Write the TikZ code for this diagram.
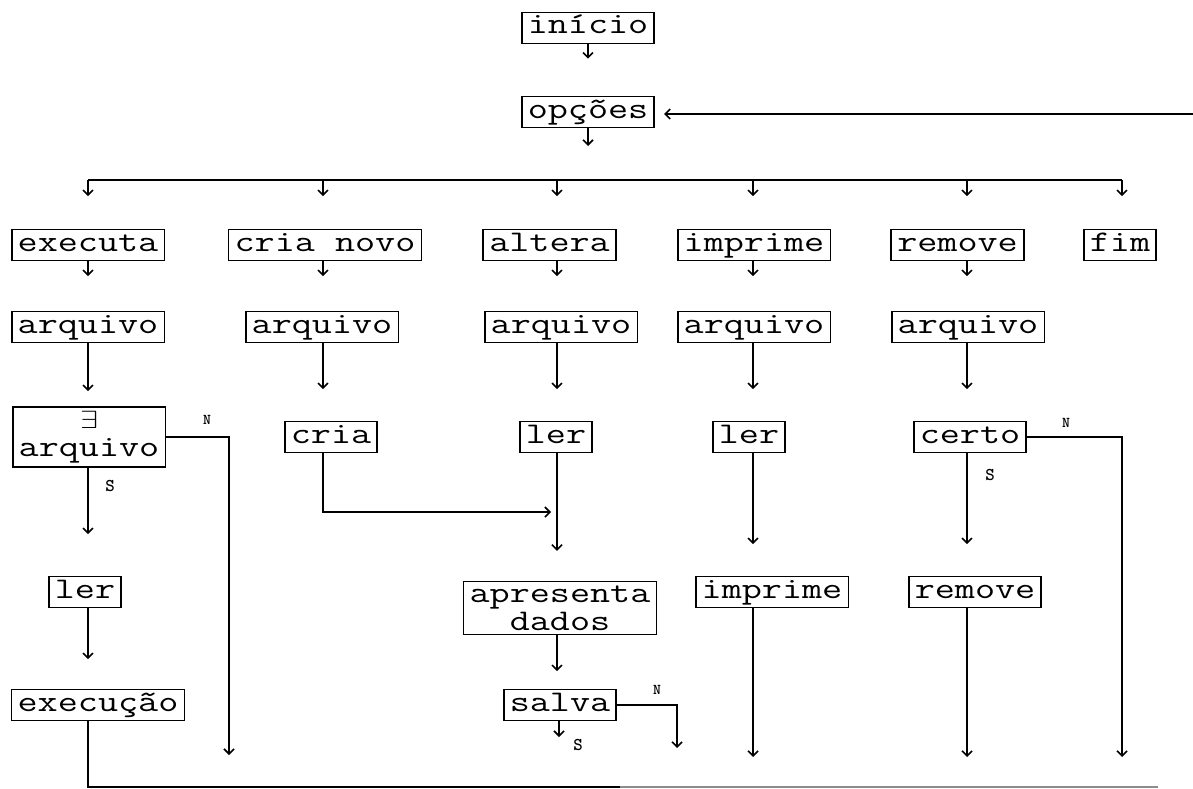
\documentclass[tikz,border=0pt]{standalone}
\usepackage{fontspec}
\usepackage{graphicx}
\usetikzlibrary{arrows.meta,calc}
\newcommand{\tx}[1]{\scalebox{1.3}[1]{#1}}
\tikzset{
  lw/.style={line width=1.6pt},
  box/.style={draw, line width=1.6pt, font=\fontsize{30}{28}\selectfont\ttfamily,
    inner xsep=6pt, inner ysep=2.5pt, text height=19pt, text depth=7pt},
  mbox/.style={draw, line width=1.6pt, font=\fontsize{30}{28}\selectfont\ttfamily,
    inner xsep=6pt, inner ysep=4pt, align=center},
  arr/.style={lw, -{Straight Barb[length=5pt,width=10pt]}},
  lab/.style={font=\fontsize{18}{18}\selectfont\ttfamily\bfseries, inner sep=0pt},
  nlab/.style={font=\fontsize{15}{15}\selectfont\ttfamily\bfseries, inner sep=0pt}
}
\begin{document}
\begin{tikzpicture}[x=1pt,y=-1pt]
\useasboundingbox (0,0) rectangle (1193,789);
% column x positions
\coordinate (c1) at (88,0);
\coordinate (c2) at (323,0);
\coordinate (c3) at (557,0);
\coordinate (c4) at (753,0);
\coordinate (c5) at (967,0);
\coordinate (c6) at (1122,0);
\coordinate (bus) at (0,180);
% top
\node[box] (inicio) at (588,28) {\tx{início}};
\node[box] (opcoes) at (588,112) {\tx{opções}};
% row 1
\node[box] (executa) at (88,245) {\tx{executa}};
\node[box] (crianovo) at (325,245) {\tx{cria novo}};
\node[box] (altera) at (549.5,245) {\tx{altera}};
\node[box] (imprime) at (754,245) {\tx{imprime}};
\node[box] (remove) at (957.5,245) {\tx{remove}};
\node[box] (fim) at (1120,245) {\tx{fim}};
% row 2
\node[box] (arq1) at (88,327) {\tx{arquivo}};
\node[box] (arq2) at (322,327) {\tx{arquivo}};
\node[box] (arq3) at (561,327) {\tx{arquivo}};
\node[box] (arq4) at (754,327) {\tx{arquivo}};
\node[box] (arq5) at (968,327) {\tx{arquivo}};
% row 3
\node[mbox] (existe) at (89,437) {\tx{$\exists$}\\\tx{arquivo}};
\node[box] (cria) at (331,437) {\tx{cria}};
\node[box] (ler3) at (556,437) {\tx{ler}};
\node[box] (ler4) at (749,437) {\tx{ler}};
\node[box] (certo) at (970,437) {\tx{certo}};
% row 4
\node[box] (ler1) at (85,592) {\tx{ler}};
\node[mbox] (apresenta) at (560,608) {\tx{apresenta}\\\tx{dados}};
\node[box] (imprime2) at (772,592) {\tx{imprime}};
\node[box] (remove2) at (975,592) {\tx{remove}};
% row 5
\node[box] (execucao) at (98,705) {\tx{execução}};
\node[box] (salva) at (560,705) {\tx{salva}};
% labels
\node[nlab] (n1) at (207,420) {N};
\node[lab] (s1) at (110,486) {S};
\node[nlab] (n2) at (1066,423) {N};
\node[lab] (s2) at (990,475) {S};
\node[nlab] (n3) at (657,690) {N};
\node[lab] (s3) at (578,745) {S};
% free ends
\coordinate (rt) at (1193,114);
\coordinate (m1) at (557,512);
\coordinate (e1) at (229,755);
\coordinate (e4) at (753,757);
\coordinate (e5) at (967,757);
\coordinate (e6) at (1122,757);
\coordinate (es) at (559,737);
\coordinate (en) at (677,748);
\coordinate (b1) at (620,787);
\coordinate (b2) at (1158,787);
% connectors top
\draw[arr, shorten >=37pt] (inicio.south) -- (opcoes.north);
\draw[arr, shorten >=9pt] (rt) -- (opcoes.east |- rt);
\draw[arr, shorten >=34pt] (opcoes.south) -- (opcoes.south |- bus);
\draw[lw] (bus -| c1) -- (bus -| c6);
\draw[arr, shorten >=32.5pt] (bus -| c1) -- (executa.north -| c1);
\draw[arr, shorten >=32.5pt] (bus -| c2) -- (crianovo.north -| c2);
\draw[arr, shorten >=32.5pt] (bus -| c3) -- (altera.north -| c3);
\draw[arr, shorten >=32.5pt] (bus -| c4) -- (imprime.north -| c4);
\draw[arr, shorten >=32.5pt] (bus -| c5) -- (remove.north -| c5);
\draw[arr, shorten >=32.5pt] (bus -| c6) -- (fim.north -| c6);
% row1 -> row2
\draw[arr, shorten >=34.5pt] (executa.south -| c1) -- (arq1.north -| c1);
\draw[arr, shorten >=34.5pt] (crianovo.south -| c2) -- (arq2.north -| c2);
\draw[arr, shorten >=34.5pt] (altera.south -| c3) -- (arq3.north -| c3);
\draw[arr, shorten >=34.5pt] (imprime.south -| c4) -- (arq4.north -| c4);
\draw[arr, shorten >=34.5pt] (remove.south -| c5) -- (arq5.north -| c5);
% row2 -> row3
\draw[arr, shorten >=15pt] (arq1.south -| c1) -- (existe.north -| c1);
\draw[arr, shorten >=31.5pt] (arq2.south -| c2) -- (cria.north -| c2);
\draw[arr, shorten >=31.5pt] (arq3.south -| c3) -- (ler3.north -| c3);
\draw[arr, shorten >=31.5pt] (arq4.south -| c4) -- (ler4.north -| c4);
\draw[arr, shorten >=31.5pt] (arq5.south -| c5) -- (certo.north -| c5);
% row3 onwards
\draw[arr, shorten >=41.5pt] (existe.south -| c1) -- (ler1.north -| c1);
\draw[arr] (existe.east) -| (e1);
\draw[arr, shorten >=6pt] (cria.south -| c2) |- (m1);
\draw[arr, shorten >=30pt] (ler3.south -| c3) -- (apresenta.north -| c3);
\draw[arr, shorten >=31.5pt] (ler4.south -| c4) -- (imprime2.north -| c4);
\draw[arr, shorten >=31.5pt] (certo.south -| c5) -- (remove2.north -| c5);
\draw[arr] (certo.east) -| (e6);
% row4 onwards
\draw[arr, shorten >=29.5pt] (ler1.south -| c1) -- (execucao.north -| c1);
\draw[arr, shorten >=17.5pt] (apresenta.south -| c3) -- (salva.north -| c3);
\draw[arr] (imprime2.south -| e4) -- (e4);
\draw[arr] (remove2.south -| e5) -- (e5);
\draw[arr] (salva.south -| es) -- (es);
\draw[arr] (salva.east) -| (en);
% bottom return line
\draw[lw] (execucao.south -| c1) |- (b1);
\draw[lw, black!45] (b1) -- (b2);
\end{tikzpicture}
\end{document}
